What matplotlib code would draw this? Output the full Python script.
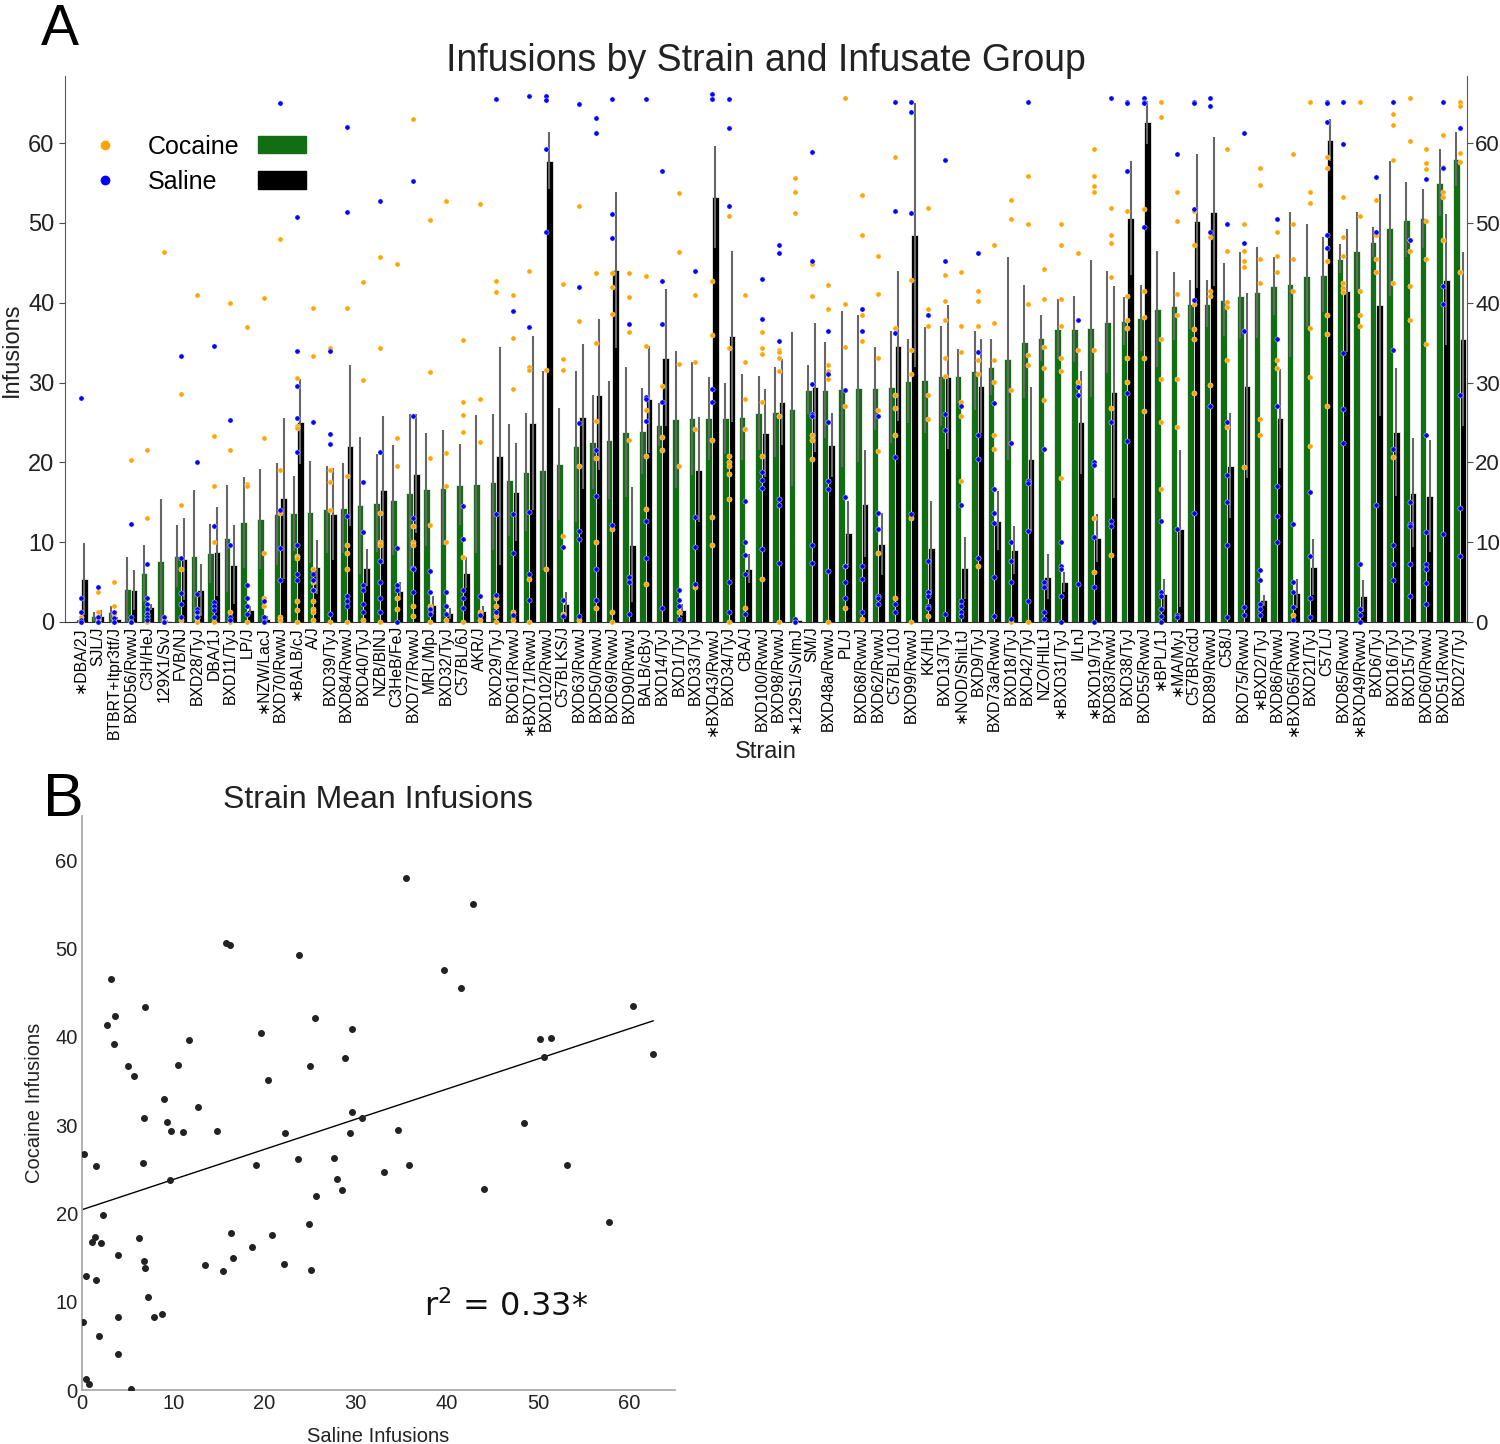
import matplotlib
matplotlib.use('Agg')
import matplotlib.pyplot as plt
from matplotlib.lines import Line2D
from matplotlib.patches import Patch
import numpy as np

plt.rcParams['font.family'] = ['Liberation Sans', 'DejaVu Sans']

strains = ['∗DBA/2J', 'SJL/J', 'BTBRT+Itpr3tf/J', 'BXD56/RwwJ', 'C3H/HeJ', '129X1/SvJ', 'FVB/NJ',
           'BXD28/TyJ', 'DBA/1J', 'BXD11/TyJ', 'LP/J', '∗NZW/LacJ', 'BXD70/RwwJ', '∗BALB/cJ', 'A/J',
           'BXD39/TyJ', 'BXD84/RwwJ', 'BXD40/TyJ', 'NZB/BlNJ', 'C3HeB/FeJ', 'BXD77/RwwJ', 'MRL/MpJ',
           'BXD32/TyJ', 'C57BL/6J', 'AKR/J', 'BXD29/TyJ', 'BXD61/RwwJ', '∗BXD71/RwwJ', 'BXD102/RwwJ',
           'C57BLKS/J', 'BXD63/RwwJ', 'BXD50/RwwJ', 'BXD69/RwwJ', 'BXD90/RwwJ', 'BALB/cByJ', 'BXD14/TyJ',
           'BXD1/TyJ', 'BXD33/TyJ', '∗BXD43/RwwJ', 'BXD34/TyJ', 'CBA/J', 'BXD100/RwwJ', 'BXD98/RwwJ',
           '∗129S1/SvImJ', 'SM/J', 'BXD48a/RwwJ', 'PL/J', 'BXD68/RwwJ', 'BXD62/RwwJ', 'C57BL/10J',
           'BXD99/RwwJ', 'KK/HlJ', 'BXD13/TyJ', '∗NOD/ShiLtJ', 'BXD9/TyJ', 'BXD73a/RwwJ', 'BXD18/TyJ',
           'BXD42/TyJ', 'NZO/HlLtJ', '∗BXD31/TyJ', 'I/LnJ', '∗BXD19/TyJ', 'BXD83/RwwJ', 'BXD38/TyJ',
           'BXD55/RwwJ', '∗BPL/1J', '∗MA/MyJ', 'C57BR/cdJ', 'BXD89/RwwJ', 'C58/J', 'BXD75/RwwJ',
           '∗BXD2/TyJ', 'BXD86/RwwJ', '∗BXD65/RwwJ', 'BXD21/TyJ', 'C57L/J', 'BXD85/RwwJ', '∗BXD49/RwwJ',
           'BXD6/TyJ', 'BXD16/TyJ', 'BXD15/TyJ', 'BXD60/RwwJ', 'BXD51/RwwJ', 'BXD27/TyJ']

# strain means (bar heights)
coc_mean = [0.1, 0.7, 1.2, 4.1, 6.1, 7.7, 8.3, 8.3, 8.6, 10.5, 12.5, 12.9, 13.5, 13.6, 13.8, 14.1,
            14.3, 14.6, 14.9, 15.3, 16.2, 16.6, 16.8, 17.2, 17.3, 17.5, 17.8, 18.8, 19.0, 19.8, 22.0,
            22.6, 22.8, 23.8, 23.9, 24.7, 25.4, 25.5, 25.5, 25.5, 25.7, 26.2, 26.3, 26.7, 29.1, 29.1,
            29.2, 29.3, 29.3, 29.4, 30.2, 30.3, 30.8, 30.8, 31.5, 32.0, 33.0, 35.1, 35.6, 36.7, 36.7,
            36.8, 37.6, 37.7, 38.1, 39.2, 39.6, 39.8, 39.9, 40.4, 40.9, 41.3, 42.1, 42.3, 43.4, 43.5,
            45.5, 46.5, 47.6, 49.3, 50.4, 50.6, 55.0, 58.0]
sal_mean = [5.4, 0.8, 0.4, 4.0, 1.9, 0.1, 7.9, 4.0, 8.8, 7.2, 1.5, 0.4, 15.5, 25.1, 6.9, 13.5,
            22.1, 6.8, 16.5, 3.9, 18.6, 2.1, 1.1, 6.2, 1.4, 20.8, 16.3, 24.9, 57.8, 2.3, 25.7,
            28.5, 44.1, 9.7, 27.9, 33.1, 1.5, 19.1, 53.2, 35.8, 6.7, 23.7, 27.6, 0.2, 29.4, 22.2,
            11.1, 14.8, 9.8, 34.6, 48.5, 9.3, 30.7, 6.8, 29.6, 12.7, 9.0, 20.4, 5.7, 5.0, 25.0,
            10.5, 28.8, 50.6, 62.6, 3.5, 11.7, 50.2, 51.4, 19.6, 29.6, 2.7, 25.5, 3.6, 6.9, 60.4,
            41.5, 3.2, 39.7, 23.8, 16.2, 15.8, 42.9, 35.5]

# half widths of the error bars
coc_ci = [0.2, 0.6, 0.8, 4.1, 3.6, 7.7, 3.9, 8.2, 3.7, 6.7, 5.7, 6.3, 6.4, 4.7, 6.4, 5.5,
          5.6, 8.6, 6.1, 6.9, 9.8, 7.1, 7.2, 5.1, 8.6, 8.5, 7.0, 7.4, 12.5, 7.0, 9.5,
          5.9, 7.4, 8.1, 5.4, 2.7, 8.6, 7.1, 5.2, 4.5, 5.4, 4.6, 5.6, 9.6, 3.1, 6.0,
          9.8, 9.2, 5.2, 7.0, 5.3, 6.6, 6.3, 3.4, 4.9, 3.5, 12.7, 7.1, 2.9, 3.8, 4.1,
          8.6, 6.4, 3.0, 4.1, 7.3, 4.3, 3.1, 3.0, 4.6, 5.5, 5.7, 3.6, 9.1, 6.4, 4.7,
          1.8, 4.9, 1.9, 8.4, 4.7, 3.7, 4.2, 3.4]
sal_ci = [4.5, 0.65, 0.2, 2.5, 0.4, 0.1, 5.1, 3.25, 5.6, 4.9, 0.5, 0.3, 10.1, 5.3, 3.4, 5.75,
          10.1, 2.3, 9.25, 1.1, 7.4, 1.1, 0.7, 2.0, 0.6, 13.6, 6.1, 10.9, 3.6, 1.5, 9.1,
          9.4, 9.8, 7.2, 6.7, 8.6, 0.7, 6.6, 6.4, 10.7, 1.8, 5.5, 5.4, 0.1, 8.1, 4.0,
          4.0, 6.7, 3.9, 9.4, 16.5, 5.9, 9.0, 3.9, 5.9, 3.7, 3.0, 9.0, 2.8, 1.3, 6.4,
          3.0, 13.3, 7.1, 2.7, 1.9, 9.8, 8.4, 9.3, 6.6, 11.6, 0.7, 6.2, 1.8, 3.5, 2.6,
          7.7, 2.0, 13.9, 8.0, 6.8, 7.0, 8.2, 10.9]

# individual animals
coc_pts = [[0.6, 0, 0], [3.8, 1.3, 0.2, 0], [5.0, 2.0, 1.0, 0.4, 0], [20.3, 0],
           [21.6, 13.0, 1.0, 0.5, 0], [46.4, 0.3, 0], [28.6, 14.6, 6.6, 0.2], [41.0, 1.0, 0.5, 0],
           [23.3, 17.0, 10.0, 0], [40.0, 21.6, 1.3, 0], [37.0, 17.3, 17.0, 0],
           [40.6, 23.0, 8.6, 3.0, 2.0], [48.0, 19.0, 13.6, 0.6, 0.2],
           [30.6, 24.6, 24.3, 8.3, 8.0, 2.6, 1.5, 0], [39.3, 33.3, 6.6, 5.0, 4.0, 2.6, 1.6, 1.3, 0.3],
           [34.3, 19.0, 17.6, 14.0, 0], [39.3, 18.3, 9.6, 8.6, 6.6, 0], [42.6, 30.3, 0.3],
           [45.7, 34.3, 13.6, 10.0, 9.6, 0], [44.8, 23.0, 19.6, 3.0, 1.6],
           [63.0, 12.0, 10.0, 9.6, 2.0, 0.7], [50.4, 31.3, 20.5, 12.1, 2.0, 0],
           [52.8, 21.2, 17.1, 10.0, 0.2], [35.3, 27.6, 25.9, 23.8, 8.1, 0],
           [52.4, 27.9, 22.5, 1.3, 0.2], [42.7, 41.3, 3.0, 2.0, 0.7, 0], [41.0, 35.6, 29.2, 1.3, 0.3],
           [44.0, 31.9, 31.6, 5.4, 0], [31.6, 6.7], [42.3, 33.0, 31.6, 10.8, 1.0],
           [52.1, 37.7, 19.5, 0.2], [43.7, 35.0, 25.2, 20.5, 10.0, 1.7],
           [43.7, 42.0, 38.6, 11.7, 1.3, 0], [43.7, 40.7, 36.3, 22.8],
           [43.4, 34.6, 26.5, 20.8, 14.1, 4.7], [29.6, 23.2, 21.5], [53.8, 46.4, 32.3, 19.5, 1.3],
           [41.0, 32.6, 24.2, 4.4], [42.7, 36.0, 22.8, 13.1, 9.7],
           [50.8, 34.3, 20.8, 20.1, 19.5, 18.5, 15.4, 0], [41.0, 32.6, 27.9, 24.2, 1.7],
           [36.3, 34.3, 33.6, 27.6, 20.8, 5.4], [34.1, 33.8, 33.1, 31.5, 25.8, 0],
           [55.6, 53.9, 51.2, 0, 0], [44.8, 40.8, 23.4, 22.8, 20.4],
           [42.2, 39.2, 32.2, 31.5, 30.5, 0], [65.6, 39.8, 34.5, 27.1, 7.0, 1.7],
           [53.5, 48.5, 38.5, 35.2, 0.4], [45.9, 41.1, 33.1, 26.5, 21.4, 8.7],
           [58.2, 36.8, 28.5, 26.8, 23.4, 3.0], [42.8, 34.1, 31.1, 13.0, 0],
           [51.9, 39.2, 37.1, 28.5, 25.4, 0.7], [43.5, 40.2, 37.8, 33.1, 30.8],
           [43.8, 37.1, 33.8, 27.5, 25.8, 17.7], [41.5, 40.2, 37.1, 32.8, 31.1, 7.0],
           [47.2, 37.5, 32.8, 30.1, 23.4, 21.7], [52.9, 50.5, 29.1, 0],
           [55.9, 49.9, 39.8, 33.5, 32.2, 0], [44.2, 40.5, 34.5, 31.8, 27.8],
           [49.9, 47.2, 40.5, 37.1, 33.1, 31.5, 18.1], [46.2, 34.1, 30.1],
           [59.3, 55.9, 54.6, 53.9, 34.1, 13.0, 6.3], [51.9, 48.5, 47.5, 43.2, 26.8, 8.4],
           [51.5, 40.8, 37.8, 36.8, 33.1, 30.1], [51.8, 41.5, 38.2, 33.1, 26.4],
           [65.2, 63.3, 35.4, 30.4, 25.1, 16.7], [53.9, 50.2, 41.1, 38.5, 30.4, 24.4],
           [51.5, 47.2, 39.8, 36.7, 35.4, 28.7], [48.2, 41.5, 40.8, 29.7],
           [59.2, 46.5, 40.1, 39.5, 32.8, 24.4], [49.8, 46.5, 45.2, 44.5, 19.4],
           [56.9, 54.8, 45.5, 42.5, 25.4, 23.4], [48.8, 45.8, 43.8, 32.8, 31.8],
           [58.6, 49.8, 45.5, 41.5, 0.9], [65.2, 53.9, 52.5, 36.8, 30.7, 22.0],
           [58.2, 56.9, 45.2, 38.5, 36.1, 27.0], [53.2, 48.2, 45.8, 42.5, 41.8, 41.4],
           [65.2, 50.9, 41.5, 38.5, 37.1], [52.9, 48.5, 45.5, 43.8], [63.6, 62.2, 57.9, 42.5, 20.7],
           [65.6, 60.3, 47.8, 46.5, 42.1, 37.8], [59.2, 57.5, 56.8, 50.2, 45.5, 34.8],
           [61.0, 57.0, 53.9, 53.2, 47.8], [65.2, 64.6, 58.8, 57.6, 43.8]]

sal_pts = [[28.0, 3.0, 1.3, 0.3, 0], [4.4, 0.6, 0], [1.3, 0.5, 0], [12.3, 0.6, 0],
           [7.3, 3.0, 2.3, 1.6, 1.0, 0.6, 0.2], [0.6, 0], [33.3, 8.0, 3.6, 2.3, 0.6],
           [20.0, 3.5, 1.6, 1.3, 0.6], [34.6, 12.0, 2.5, 2.0, 1.5, 0.6], [25.3, 9.6, 0.6, 0.3],
           [4.6, 3.0, 2.0, 1.0], [2.6, 0.6, 0], [65.0, 14.0, 9.3, 5.3],
           [50.7, 34.0, 29.6, 25.6, 21.3, 9.6, 6.0, 5.3], [25.0, 6.0, 5.3, 4.0],
           [34.0, 23.6, 22.3, 1.0], [62.0, 51.4, 13.3, 3.3, 2.6, 2.0], [17.6, 11.3, 4.6, 4.0, 2.3, 1.3],
           [52.7, 21.3, 7.6, 5.0, 3.0, 1.3], [9.3, 4.6, 4.0, 0], [55.3, 25.8, 13.0, 6.8, 6.6, 3.7],
           [6.4, 3.7, 1.6, 1.0], [3.7, 2.0, 1.0], [14.5, 10.4, 4.0, 3.0, 1.7], [3.3, 0.9],
           [65.5, 13.5, 3.4, 1.3], [39.0, 13.5, 8.7, 0.9], [65.9, 37.0, 13.8, 6.0, 2.7],
           [65.9, 65.4, 59.2, 48.8], [9.4, 2.7, 0.7], [64.9, 42.0, 24.9, 11.4, 10.4, 0.7],
           [63.2, 61.2, 21.5, 15.8, 6.7, 2.7], [65.5, 51.1, 48.1, 12.1], [37.3, 5.7, 5.0, 1.0],
           [65.5, 28.2, 27.9, 25.2, 12.7, 8.0], [56.5, 42.7, 37.3, 27.6, 1.7], [4.0, 2.7, 2.0, 0.4],
           [44.0, 13.1, 9.4, 4.7], [66.2, 65.5, 29.2, 27.6], [65.5, 61.9, 52.1, 5.0, 1.3],
           [15.1, 10.0, 8.4, 6.0, 1.0], [43.0, 38.0, 18.8, 17.8, 16.8, 9.1],
           [47.2, 46.2, 35.2, 15.4, 14.7, 7.4], [0.4, 0], [58.9, 45.2, 29.8, 26.1, 25.8, 9.7, 7.4],
           [36.5, 31.1, 25.1, 17.7, 16.7, 6.4], [29.1, 15.7, 7.0, 5.0, 3.0], [39.2, 36.5, 7.0, 5.4, 1.3],
           [25.8, 13.7, 11.7, 3.3, 3.0, 2.3], [65.2, 51.5, 36.2, 20.7, 2.3, 1.3],
           [65.2, 63.9, 51.3, 13.5], [38.5, 7.7, 3.7, 3.3, 2.0, 1.7], [57.9, 45.2, 26.1, 24.1, 1.0],
           [27.1, 14.7, 2.6, 2.0, 1.3, 0.7], [46.2, 33.8, 23.4, 20.4, 8.0],
           [27.4, 16.7, 13.7, 12.4, 5.7, 0.7], [22.4, 10.0, 7.7, 5.0, 0.4], [65.2, 17.7, 17.4, 11.4, 2.6],
           [21.7, 5.0, 4.4, 1.3, 0.4], [10.0, 7.0, 6.7, 3.3, 0], [37.8, 29.5, 28.5, 4.7],
           [20.0, 19.7, 10.7, 4.4, 0], [65.6, 25.1, 12.7, 12.0], [65.2, 65.0, 56.5, 28.7, 22.7],
           [65.6, 65.2, 65.0, 49.5], [12.6, 3.7, 3.2, 1.6, 0.7, 0], [58.6, 11.7, 0.9, 0.6],
           [65.2, 65.0, 51.8, 40.4, 13.6], [65.6, 64.6, 48.8, 27.0], [49.8, 25.1, 18.4, 15.0, 9.6, 0.6],
           [61.2, 47.5, 36.4, 1.9, 0.9], [6.5, 5.3, 2.3, 1.6, 0.9], [50.5, 35.4, 27.0, 17.0, 13.3, 10.0],
           [12.3, 5.0, 3.7, 1.9, 0.3], [16.3, 8.3, 3.0, 0.6], [65.2, 65.0, 62.6, 48.5, 46.8],
           [65.2, 59.9, 33.7, 26.7, 22.4], [7.3, 1.6, 0.9, 0], [55.8, 48.8, 14.6],
           [65.2, 34.1, 21.7, 9.6, 7.3, 5.3], [47.8, 15.0, 12.3, 12.0, 7.3, 3.2],
           [55.5, 23.4, 11.3, 7.3, 6.6, 4.9, 2.2], [65.2, 56.9, 42.1, 39.8, 11.0],
           [61.9, 28.4, 14.3, 8.3]]

GREEN = '#126e12'
W, H = 1500, 1444

fig = plt.figure(figsize=(W / 100, H / 100), dpi=100)

# ---------- panel A ----------
axA = fig.add_axes([65 / W, 1 - 622 / H, (1467 - 65) / W, (622 - 76) / H])
x = np.arange(len(strains))
coc = np.array(coc_mean)
sal = np.array(sal_mean)

axA.bar(x - 0.2, coc, width=0.4, color=GREEN, edgecolor='white', linewidth=0.5, zorder=2)
axA.bar(x + 0.2, sal, width=0.4, color='black', edgecolor='white', linewidth=0.5, zorder=2)
axA.vlines(x - 0.2, np.clip(coc - np.array(coc_ci), 0, None), coc + np.array(coc_ci),
           color='0.4', lw=1.5, zorder=3)
axA.vlines(x + 0.2, np.clip(sal - np.array(sal_ci), 0, None), sal + np.array(sal_ci),
           color='0.4', lw=1.5, zorder=3)

for i in range(len(strains)):
    axA.scatter([i] * len(coc_pts[i]), coc_pts[i], s=14, color='orange',
                edgecolors='white', linewidths=0.3, zorder=4, clip_on=False)
for i in range(len(strains)):
    axA.scatter([i] * len(sal_pts[i]), sal_pts[i], s=14, color='blue',
                edgecolors='white', linewidths=0.3, zorder=5, clip_on=False)

axA.set_xlim(-0.96, 83.45)
axA.set_ylim(0, 68.4)
axA.set_xticks(x)
axA.set_xticklabels(strains, rotation=90, fontsize=11.3)
axA.set_yticks(range(0, 61, 10))
axA.tick_params(axis='y', labelsize=17, length=4, color='0.3', labelcolor='#222222')
axA.tick_params(axis='x', length=0, pad=3)
for s in ['top', 'right']:
    axA.spines[s].set_visible(False)
axA.spines['left'].set_color('0.35')
axA.spines['bottom'].set_color('0.2')

axR = axA.twinx()
axR.set_ylim(0, 68.4)
axR.set_yticks(range(0, 61, 10))
axR.tick_params(axis='y', labelsize=16, length=4, pad=2, color='0.3', labelcolor='#222222')
for s in ['top', 'left', 'bottom']:
    axR.spines[s].set_visible(False)
axR.spines['right'].set_color('0.35')

dots = [Line2D([], [], ls='', marker='o', markersize=6, color='orange'),
        Line2D([], [], ls='', marker='o', markersize=6, color='blue')]
leg1 = axA.legend(dots, ['Cocaine', 'Saline'], loc='upper left', frameon=False, fontsize=18,
                  bbox_to_anchor=(70 / W, 1 - 112 / H), bbox_transform=fig.transFigure,
                  handlelength=1.0, handletextpad=1.2, labelspacing=0.45)
axA.add_artist(leg1)
boxes = [Patch(color=GREEN), Patch(color='black')]
axA.legend(boxes, [' ', ' '], loc='upper left', frameon=False, fontsize=18,
           bbox_to_anchor=(235 / W, 1 - 112 / H), bbox_transform=fig.transFigure,
           handlelength=1.95, handleheight=0.68, handletextpad=0, labelspacing=0.45)

fig.text(766 / W, 1 - 61 / H, 'Infusions by Strain and Infusate Group', ha='center', va='center',
         fontsize=27, color='#222222')
fig.text(766 / W, 1 - 752 / H, 'Strain', ha='center', va='center', fontsize=17, color='#222222')
fig.text(12 / W, 1 - 350 / H, 'Infusions', ha='center', va='center', rotation=90, fontsize=17,
         color='#222222')
fig.text(60 / W, 1 - 45 / H, 'A', ha='center', va='baseline', fontsize=41)

# ---------- panel B ----------
axB = fig.add_axes([82 / W, 1 - 1390 / H, (675 - 82) / W, (1390 - 816) / H])
axB.scatter(sal, coc, s=16, color='#222222', zorder=3)
slope, icept = np.polyfit(sal, coc, 1)
xs = np.array([0, sal.max()])
axB.plot(xs, icept + slope * xs, color='black', lw=1)
axB.set_xlim(0, 65)
axB.set_ylim(0, 65)
axB.set_xticks(range(0, 61, 10))
axB.set_yticks(range(0, 61, 10))
axB.tick_params(length=0, labelsize=14.5, labelcolor='#222222', pad=3)
for s in ['top', 'right']:
    axB.spines[s].set_visible(False)
for s in ['left', 'bottom']:
    axB.spines[s].set_color('#aaaaaa')
    axB.spines[s].set_linewidth(1.3)
axB.set_xlabel('Saline Infusions', fontsize=14.5, color='#222222', labelpad=10)
axB.set_ylabel('Cocaine Infusions', fontsize=14.5, color='#222222', labelpad=8)
axB.text(37.5, 9.4, 'r$^2$ = 0.33*', fontsize=23, family='DejaVu Sans', va='center', ha='left',
         color='#111111')
fig.text(378 / W, 1 - 800 / H, 'Strain Mean Infusions', ha='center', va='center', fontsize=23,
         color='#222222')
fig.text(63 / W, 1 - 800 / H, 'B', ha='center', va='center', fontsize=44)

fig.savefig('out.png', dpi=100)
